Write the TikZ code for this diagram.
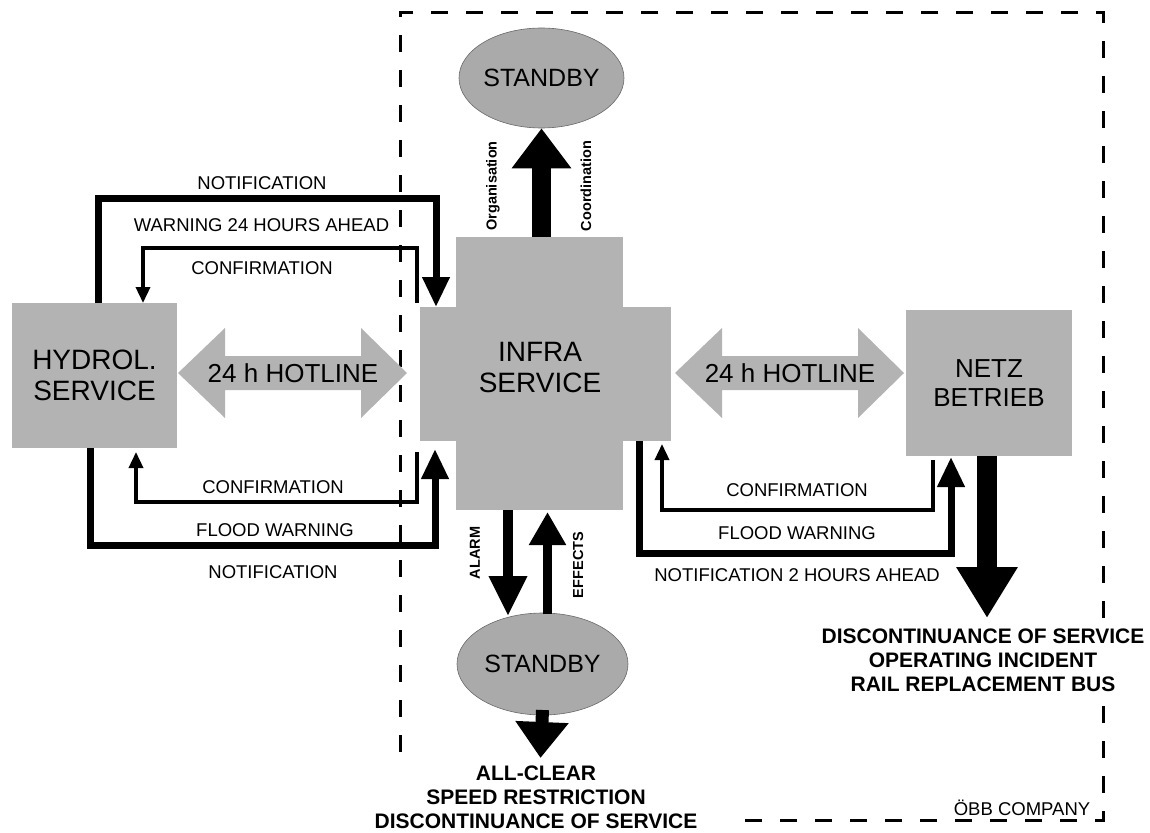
\documentclass[tikz,border=0pt]{standalone}
\usepackage{fontspec}
\setmainfont{Liberation Sans}
\usetikzlibrary{arrows.meta,shapes.geometric}
\definecolor{boxgray}{RGB}{179,179,179}
\definecolor{ellgray}{RGB}{170,170,170}
\definecolor{ellline}{RGB}{105,105,105}
\begin{document}
\begin{tikzpicture}[x=1pt,y=-1pt,
  box/.style={fill=boxgray, draw=none, inner sep=0pt},
  ell/.style={ellipse, fill=ellgray, draw=ellline, line width=0.6pt, inner sep=0pt, font=\fontsize{25}{28}\selectfont},
  lbl/.style={font=\fontsize{18.5}{22}\selectfont, inner sep=0pt},
  big/.style={font=\fontsize{28}{31}\selectfont, align=center},
  mid/.style={font=\fontsize{26}{29}\selectfont, align=center},
  outtxt/.style={font=\bfseries\fontsize{21}{24}\selectfont, align=center, inner sep=3pt, fill=white},
  rot/.style={font=\bfseries\fontsize{14.5}{17}\selectfont, rotate=90, inner sep=0pt},
  flowthick/.style={line width=7pt, -{Triangle[width=26pt,length=30pt]}},
  flowthin/.style={line width=3.5pt, -{Triangle[width=14pt,length=16pt]}},
  border/.style={line width=3pt, dash pattern=on 17pt off 18pt},
]
\useasboundingbox (0,0) rectangle (1150,832);

% company border
\coordinate (b1) at (745,820);
\coordinate (b2) at (1103,820);
\coordinate (b3) at (1103,13);
\coordinate (b4) at (400,13);
\coordinate (b5) at (400,757);
\draw[border] (b1) -- (b2) -- (b3) -- (b4) -- (b5);

% INFRA SERVICE cross
\node[box, minimum width=167pt, minimum height=273pt] (infraV) at (539.5,373.5) {};
\node[box, minimum width=251pt, minimum height=134pt] (infraH) at (545.5,374) {};
\node[big, inner sep=0pt] (infra) at (540,367.5) {INFRA\\SERVICE};

% side boxes
\node[box, big, minimum width=165pt, minimum height=145pt] (hydrol) at (94.5,375.5) {HYDROL.\\SERVICE};
\node[box, mid, minimum width=166pt, minimum height=146pt] (netz) at (989,383) {NETZ\\BETRIEB};

% hotlines
\fill[boxgray] (178,373) -- (225,328) -- (225,356) -- (361,356) -- (361,328) -- (407,373)
  -- (361,418) -- (361,390) -- (225,390) -- (225,418) -- cycle;
\node[mid, inner sep=0pt] (hotL) at (293,373) {24 h HOTLINE};
\fill[boxgray] (675,373) -- (722,328) -- (722,356) -- (858,356) -- (858,328) -- (904,373)
  -- (858,418) -- (858,390) -- (722,390) -- (722,418) -- cycle;
\node[mid, inner sep=0pt] (hotR) at (790,373) {24 h HOTLINE};

% standby ellipses
\node[ell, minimum width=165pt, minimum height=100pt] (sbTop) at (541.5,78) {STANDBY};
\node[ell, minimum width=171pt, minimum height=102pt] (sbBot) at (542.5,664) {STANDBY};

% top arrow
\draw[line width=19pt, -{Triangle[width=57pt,length=40pt]}] (sbTop.south |- infraV.north) -- (sbTop.south);
\node[rot] (org) at (493,186) {Organisation};
\node[rot] (coord) at (586,186) {Coordination};

% bottom arrows
\coordinate (alS) at (508,510);
\coordinate (alE) at (508,616);
\draw[line width=9.5pt, -{Triangle[width=36pt,length=40pt]}] (alS) -- (alE);
\coordinate (efS) at (547.5,614);
\coordinate (efE) at (547.5,512);
\draw[line width=9pt, -{Triangle[width=35pt,length=33pt]}] (efS) -- (efE);
\node[rot] (alarm) at (475,553) {ALARM};
\node[rot] (effects) at (578,565) {EFFECTS};
\coordinate (sbE) at (540.5,758);
\draw[line width=13pt, -{Triangle[width=51pt,length=36pt]}] (sbBot.south |- 0,710) -- (sbE);
\node[outtxt] (res1) at (536,797.5) {ALL-CLEAR\\SPEED RESTRICTION\\DISCONTINUANCE OF SERVICE};

% NETZ down arrow
\coordinate (nzS) at (987,456);
\coordinate (nzE) at (987,618);
\draw[line width=20pt, -{Triangle[width=58pt,length=51pt]}] (nzS) -- (nzE);
\node[outtxt] (res2) at (983,660.5) {DISCONTINUANCE OF SERVICE\\OPERATING INCIDENT\\RAIL REPLACEMENT BUS};
\node[lbl] (obb) at (1022,808) {ÖBB COMPANY};

% left upper flows
\coordinate (t1a) at (98,303);
\coordinate (t1b) at (98,198);
\coordinate (t1c) at (436,198);
\coordinate (t1d) at (436,307);
\draw[flowthick] (t1a) -- (t1b) -- (t1c) -- (t1d);
\coordinate (t2a) at (417,303);
\coordinate (t2b) at (417,248);
\coordinate (t2c) at (143,248);
\coordinate (t2d) at (143,303);
\draw[flowthin] (t2a) -- (t2b) -- (t2c) -- (t2d);
\node[lbl] (lNot1) at (262,183) {NOTIFICATION};
\node[lbl] (lWarn) at (261.5,225) {WARNING 24 HOURS AHEAD};
\node[lbl] (lConf1) at (262,268) {CONFIRMATION};

% left lower flows
\coordinate (u1a) at (417,452);
\coordinate (u1b) at (417,502);
\coordinate (u1c) at (136,502);
\coordinate (u1d) at (136,452);
\draw[flowthin] (u1a) -- (u1b) -- (u1c) -- (u1d);
\coordinate (u2a) at (90,448);
\coordinate (u2b) at (90,545);
\coordinate (u2c) at (435,545);
\coordinate (u2d) at (435,449);
\draw[flowthick] (u2a) -- (u2b) -- (u2c) -- (u2d);
\node[lbl] (lConf2) at (273,487) {CONFIRMATION};
\node[lbl] (lFlood) at (275,530) {FLOOD WARNING};
\node[lbl] (lNot2) at (273,572) {NOTIFICATION};

% right lower flows
\coordinate (r1a) at (639,441);
\coordinate (r1b) at (639,553);
\coordinate (r1c) at (951,553);
\coordinate (r1d) at (951,457);
\draw[flowthick] (r1a) -- (r1b) -- (r1c) -- (r1d);
\coordinate (r2a) at (933,460);
\coordinate (r2b) at (933,510);
\coordinate (r2c) at (662,510);
\coordinate (r2d) at (662,444);
\draw[flowthin] (r2a) -- (r2b) -- (r2c) -- (r2d);
\node[lbl] (rConf) at (797,490) {CONFIRMATION};
\node[lbl] (rFlood) at (797,533) {FLOOD WARNING};
\node[lbl] (rNot) at (797,575) {NOTIFICATION 2 HOURS AHEAD};
\end{tikzpicture}
\end{document}
